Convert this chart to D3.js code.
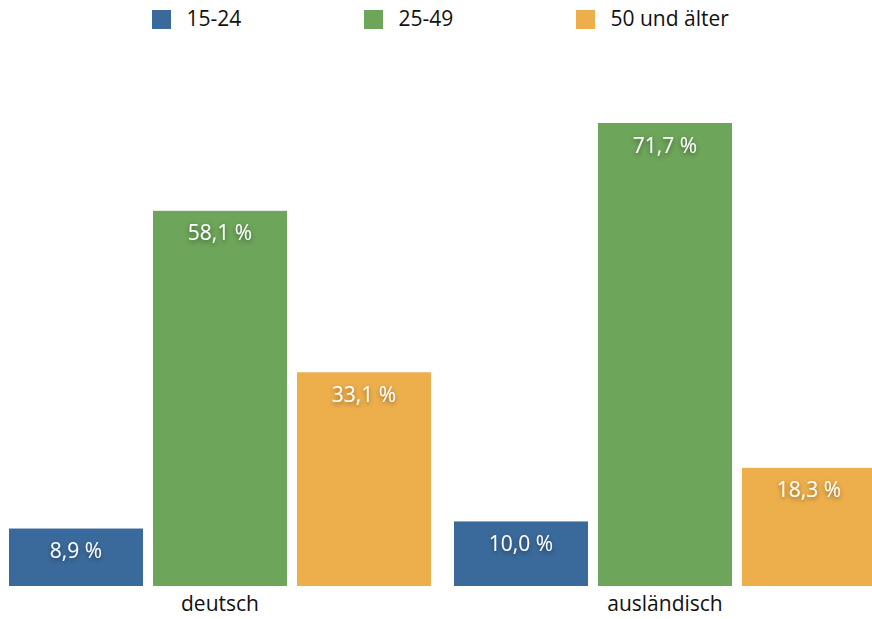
<!DOCTYPE html>
<html><head><meta charset="utf-8">
<script src="https://cdn.jsdelivr.net/npm/d3@7"></script>
<style>
html,body{margin:0;padding:0;background:#fff;overflow:hidden;}
text{font-family:"Open Sans","Noto Sans",sans-serif;}
</style></head>
<body><svg id="chart" width="872" height="619"></svg>
<script>
const categories = ["deutsch", "ausländisch"];
const seriesNames = ["15-24", "25-49", "50 und älter"];
const values15_24 = [8.9, 10.0];
const values25_49 = [58.1, 71.7];
const values50plus = [33.1, 18.3];
const colors = ["#3a6a9b", "#6da55a", "#edaf4c"];

const seriesValues = [values15_24, values25_49, values50plus];
const fmt = v => d3.format(".1f")(v).replace(".", ",") + " %";

const svg = d3.select("#chart");
const defs = svg.append("defs");
const f = defs.append("filter").attr("id","shadow").attr("x","-30%").attr("y","-50%").attr("width","160%").attr("height","200%");
f.append("feDropShadow").attr("dx",0).attr("dy",2).attr("stdDeviation",2.5).attr("flood-color","#000").attr("flood-opacity",0.45);

const x0 = d3.scaleBand().domain(categories).range([-2.5, 887.5]).padding(0);
const x1 = d3.scaleBand().domain(seriesNames).range([11.5, 433.5]).paddingInner(0.0694).paddingOuter(0);
const y = d3.scaleLinear().domain([0, 71.7]).range([586, 123]);

const groups = svg.selectAll("g.grp").data(categories).enter().append("g")
  .attr("transform", d => `translate(${x0(d)},0)`);

groups.each(function(cat, ci){
  const g = d3.select(this);
  seriesNames.forEach((s, si) => {
    const v = seriesValues[si][ci];
    g.append("rect").attr("x", x1(s)).attr("y", y(v)).attr("width", x1.bandwidth())
      .attr("height", y(0) - y(v)).attr("fill", colors[si]);
    g.append("text").attr("x", x1(s) + x1.bandwidth()/2).attr("y", y(v) + 29.5)
      .attr("text-anchor","middle").attr("fill","#fff").attr("font-size", 21)
      .attr("filter","url(#shadow)").text(fmt(v));
  });
  g.append("text").attr("x", x0.bandwidth()/2).attr("y", 611).attr("text-anchor","middle")
    .attr("fill","#111").attr("font-size", 21).text(cat);
});

const legendX = [152, 364, 576];
const legend = svg.append("g");
seriesNames.forEach((s, i) => {
  legend.append("rect").attr("x", legendX[i]).attr("y", 10).attr("width", 19).attr("height", 19).attr("fill", colors[i]);
  legend.append("text").attr("x", legendX[i] + 34.5).attr("y", 25.5).attr("font-size", 21).attr("fill","#111").text(s);
});
</script></body></html>
